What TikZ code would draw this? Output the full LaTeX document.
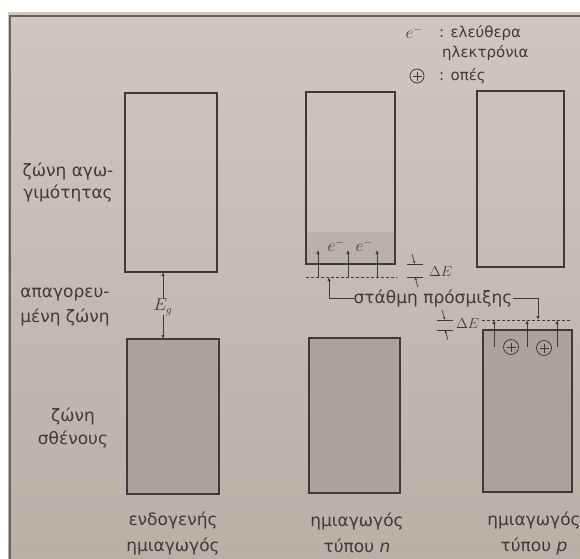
\documentclass[tikz,border=0pt]{standalone}
\usepackage{fontspec}
\setmainfont{DejaVu Sans}
\usetikzlibrary{arrows.meta,calc}
\definecolor{paperTop}{HTML}{CEC8C0}
\definecolor{paperBot}{HTML}{B9B0A8}
\definecolor{ink}{HTML}{3F3A35}
\definecolor{bandfill}{HTML}{ABA49D}
\definecolor{efill}{HTML}{B9B2AB}
\definecolor{frame}{HTML}{6A645E}
\begin{document}
\begin{tikzpicture}[x=1pt,y=-1pt,
  band/.style={draw=ink,line width=1.6pt,inner sep=0pt,outer sep=0pt},
  filled/.style={band,fill=bandfill},
  lbl/.style={text=ink,align=center,inner sep=0pt,font=\fontsize{17}{22}\selectfont},
  legend/.style={text=ink,inner sep=0pt,anchor=west,font=\fontsize{15}{17}\selectfont},
  level/.style={draw=ink,line width=0.9pt,dash pattern=on 3pt off 2pt},
  lvlarrow/.style={draw=ink,line width=0.7pt,-{Latex[length=4pt,width=3.4pt]}},
  gaptick/.style={draw=ink,line width=0.8pt},
  gaparrow/.style={draw=ink,line width=0.7pt,-{Latex[length=3pt,width=2.6pt]}},
  mathlbl/.style={text=ink,inner sep=0pt,font=\fontsize{14}{16}\selectfont},
  hole/.style={circle,draw=ink,line width=0.8pt,minimum size=15pt,inner sep=0pt,
    path picture={\draw[ink,line width=0.8pt]
      ([xshift=-4.5pt]path picture bounding box.center) -- ([xshift=4.5pt]path picture bounding box.center)
      ([yshift=-4.5pt]path picture bounding box.center) -- ([yshift=4.5pt]path picture bounding box.center);}}
]
\useasboundingbox (0,0) rectangle (580,558);
% paper and page frame
\fill[white] (0,0) rectangle (580,558);
\shade[top color=paperTop,bottom color=paperBot] (8,12) rectangle (580,558);
\draw[frame,line width=2.6pt] (10,560) -- (10,16) -- (582,16);

% energy bands: intrinsic, n-type, p-type
\node[band,minimum width=92pt,minimum height=179pt] (c1t) at (171,182.5) {};
\node[filled,minimum width=92pt,minimum height=155pt] (c1b) at (173,416.5) {};
\node[band,minimum width=89pt,minimum height=172pt] (c2t) at (350.5,178) {};
\node[filled,minimum width=91pt,minimum height=155pt] (c2b) at (354.5,415.5) {};
\node[band,minimum width=87pt,minimum height=176pt] (c3t) at (520.5,179) {};
\node[filled,minimum width=89pt,minimum height=162pt] (c3b) at (527.5,411) {};

% free electrons at the bottom of the n-type conduction band
\fill[efill] (c2t.south west) rectangle ($(c2t.south east)+(0,-32)$);
\draw[band] (c2t.south west) rectangle (c2t.north east);

% band gap
\coordinate (egx) at (163,0);
\node[mathlbl,font=\fontsize{16}{18}\selectfont] (eg) at (163,307) {$E_g$};
\draw[lvlarrow] (eg.north) -- (egx |- c1t.south);
\draw[lvlarrow] (eg.south) -- (egx |- c1b.north);

% donor level
\coordinate (dl) at (306,277);
\coordinate (dr) at (397,277);
\draw[level] (dl) -- (dr);
\foreach \x/\n in {318/1,348/2,377/3}{
  \coordinate (don\n) at (\x,277);
  \coordinate (cb\n) at (\x,250);
  \draw[lvlarrow] (don\n) -- (cb\n);
}
\node[mathlbl,font=\fontsize{16}{18}\selectfont] (e1) at (336,245) {$e^-$};
\node[mathlbl,font=\fontsize{16}{18}\selectfont] (e2) at (364,245) {$e^-$};

% gap between donor level and conduction band
\draw[gaptick] (407,264) -- (423,264) (407,277) -- (423,277);
\draw[gaparrow] (412,254) -- (415,264);
\draw[gaparrow] (418,287) -- (415,277);
\node[mathlbl,anchor=west] (dEn) at (429,272) {$\Delta E$};

% acceptor level
\coordinate (al) at (482,320);
\coordinate (ar) at (572,320);
\draw[level] (al) -- (ar);
\foreach \x/\n in {494/1,527/2,557/3}{
  \coordinate (acc\n) at (\x,320);
  \coordinate (vb\n) at (\x,347);
  \draw[lvlarrow] (vb\n) -- (acc\n);
}
\node[hole] (h1) at (511,347) {};
\node[hole] (h2) at (544,348) {};

% gap between valence band and acceptor level
\draw[gaptick] (437,320) -- (453,320) (437,330) -- (453,330);
\draw[gaparrow] (442,310) -- (445,320);
\draw[gaparrow] (448,340) -- (445,330);
\node[mathlbl,anchor=west] (dEp) at (456,324) {$\Delta E$};

% impurity level label with its two pointers
\node[lbl] (imp) at (433,298) {στάθμη πρόσμιξης};
\coordinate (dptr) at (329,277);
\coordinate (aptr) at (538,320);
\draw[lvlarrow] (imp.west) -| (dptr);
\draw[lvlarrow] (imp.east) -| (aptr);

% band names
\node[lbl] (cond) at (68,182) {ζώνη αγω-\\γιμότητας};
\node[lbl,font=\fontsize{17}{25}\selectfont] (forb) at (65,307) {απαγορευ-\\μένη ζώνη};
\node[lbl,font=\fontsize{17}{23}\selectfont] (val) at (73,428) {ζώνη\\σθένους};

% semiconductor names
\node[lbl,font=\fontsize{17}{26}\selectfont] (n1) at (173,533) {ενδογενής\\ημιαγωγός};
\node[lbl,font=\fontsize{17}{26}\selectfont] (n2) at (357,533) {ημιαγωγός\\τύπου \textit{n}};
\node[lbl,font=\fontsize{17}{26}\selectfont] (n3) at (534,533) {ημιαγωγός\\τύπου \textit{p}};

% legend
\node[mathlbl,font=\fontsize{16}{18}\selectfont] (le) at (414,32) {$e^-$};
\node[legend] (lt1) at (439,33) {: ελεύθερα};
\node[legend] (lt2) at (442,53) {ηλεκτρόνια};
\node[hole,minimum size=14pt] (lh) at (417,76) {};
\node[legend] (lt3) at (439,76) {: οπές};
\end{tikzpicture}
\end{document}
